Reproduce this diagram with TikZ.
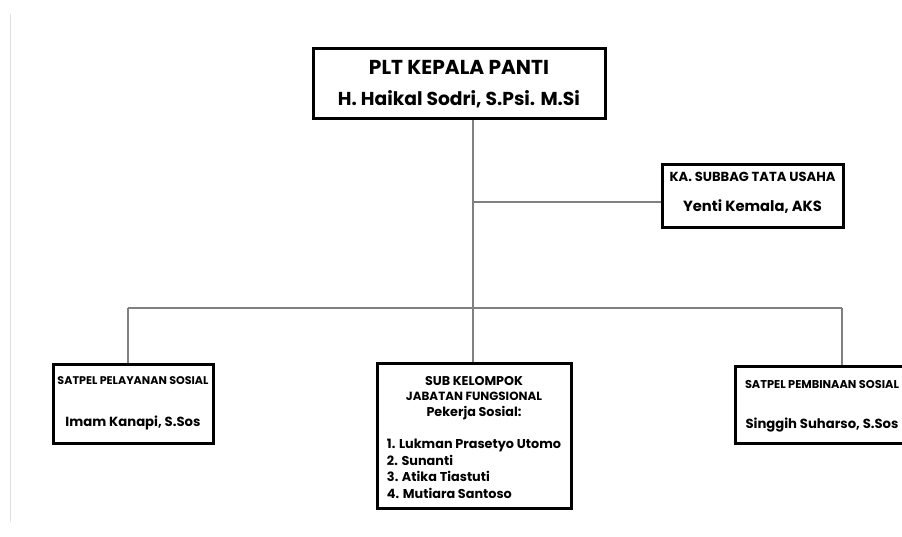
\documentclass[tikz,border=0pt]{standalone}
\usepackage{fontspec}
\setmainfont{Poppins}
\usetikzlibrary{positioning}
\newcommand{\fitw}[2]{\resizebox{#1pt}{!}{#2}}

\begin{document}
\begin{tikzpicture}[x=1pt,y=-1pt,
    post/.style={draw=black, line width=3pt, fill=white, align=center, inner sep=0pt, font=\bfseries},
    link/.style={draw=black!50, line width=1.5pt}]
    \useasboundingbox (0,0) rectangle (902,537);
    \clip (0,0) rectangle (902,537);
    \fill[white] (0,0) rectangle (902,537);
    \draw[black!12, line width=1pt] (10,14) -- (10,522);

    \node[post, minimum width=292pt, minimum height=70pt] (kepala) at (459,84)
        {\fitw{180}{PLT KEPALA PANTI}\\[15pt]\fitw{242}{H. Haikal Sodri, S.Psi. M.Si}};
    \node[post, minimum width=181pt, minimum height=63pt] (tu) at (752.5,196.5)
        {\raisebox{3pt}[\height][\depth]{\begin{tabular}{@{}c@{}}
            \fitw{166}{KA. SUBBAG TATA USAHA}\\[15pt]\fitw{139}{Yenti Kemala, AKS}
         \end{tabular}}};

    \begin{scope}
        \node[post, minimum width=160pt, minimum height=79pt] (pelayanan) at (133,403.5)
            {\fitw{151}{SATPEL PELAYANAN SOSIAL}\\[30pt]\fitw{135}{Imam Kanapi, S.Sos}};
        \node[post, minimum width=194pt, minimum height=145pt] (fungsional) at (474,435.5)
            {\raisebox{-4pt}[\height][\depth]{\begin{tabular}{@{}c@{}}
                \fitw{98}{SUB KELOMPOK}\\[3pt]
                \fitw{136}{JABATAN FUNGSIONAL}\\[3pt]
                \fitw{95}{Pekerja Sosial:}\\[17pt]
                \fitw{174}{\begin{tabular}{@{}l@{}}
                    1. Lukman Prasetyo Utomo\\[1pt]
                    2. Sunanti\\[1pt]
                    3. Atika Tiastuti\\[1pt]
                    4. Mutiara Santoso
                \end{tabular}}
             \end{tabular}}};
        \node[post, minimum width=174pt, minimum height=77pt] (pembinaan) at (822,404.5)
            {\raisebox{-2pt}[\height][\depth]{\begin{tabular}{@{}c@{}}
                \fitw{154}{SATPEL PEMBINAAN SOSIAL}\\[26pt]\fitw{153}{Singgih Suharso, S.Sos}
             \end{tabular}}};
    \end{scope}

    \coordinate (tap) at (473,202);
    \coordinate (bus) at (473,308);
    \coordinate (busL) at (128,308);
    \coordinate (busR) at (842,308);

    \draw[link] (kepala.south -| bus) -- (bus);
    \draw[link] (tap) -- (tap -| tu.west);
    \draw[link] (busL) -- (busR);
    \draw[link] (busL) -- (busL |- pelayanan.north);
    \draw[link] (bus) -- (bus |- fungsional.north);
    \draw[link] (busR) -- (busR |- pembinaan.north);
\end{tikzpicture}
\end{document}
